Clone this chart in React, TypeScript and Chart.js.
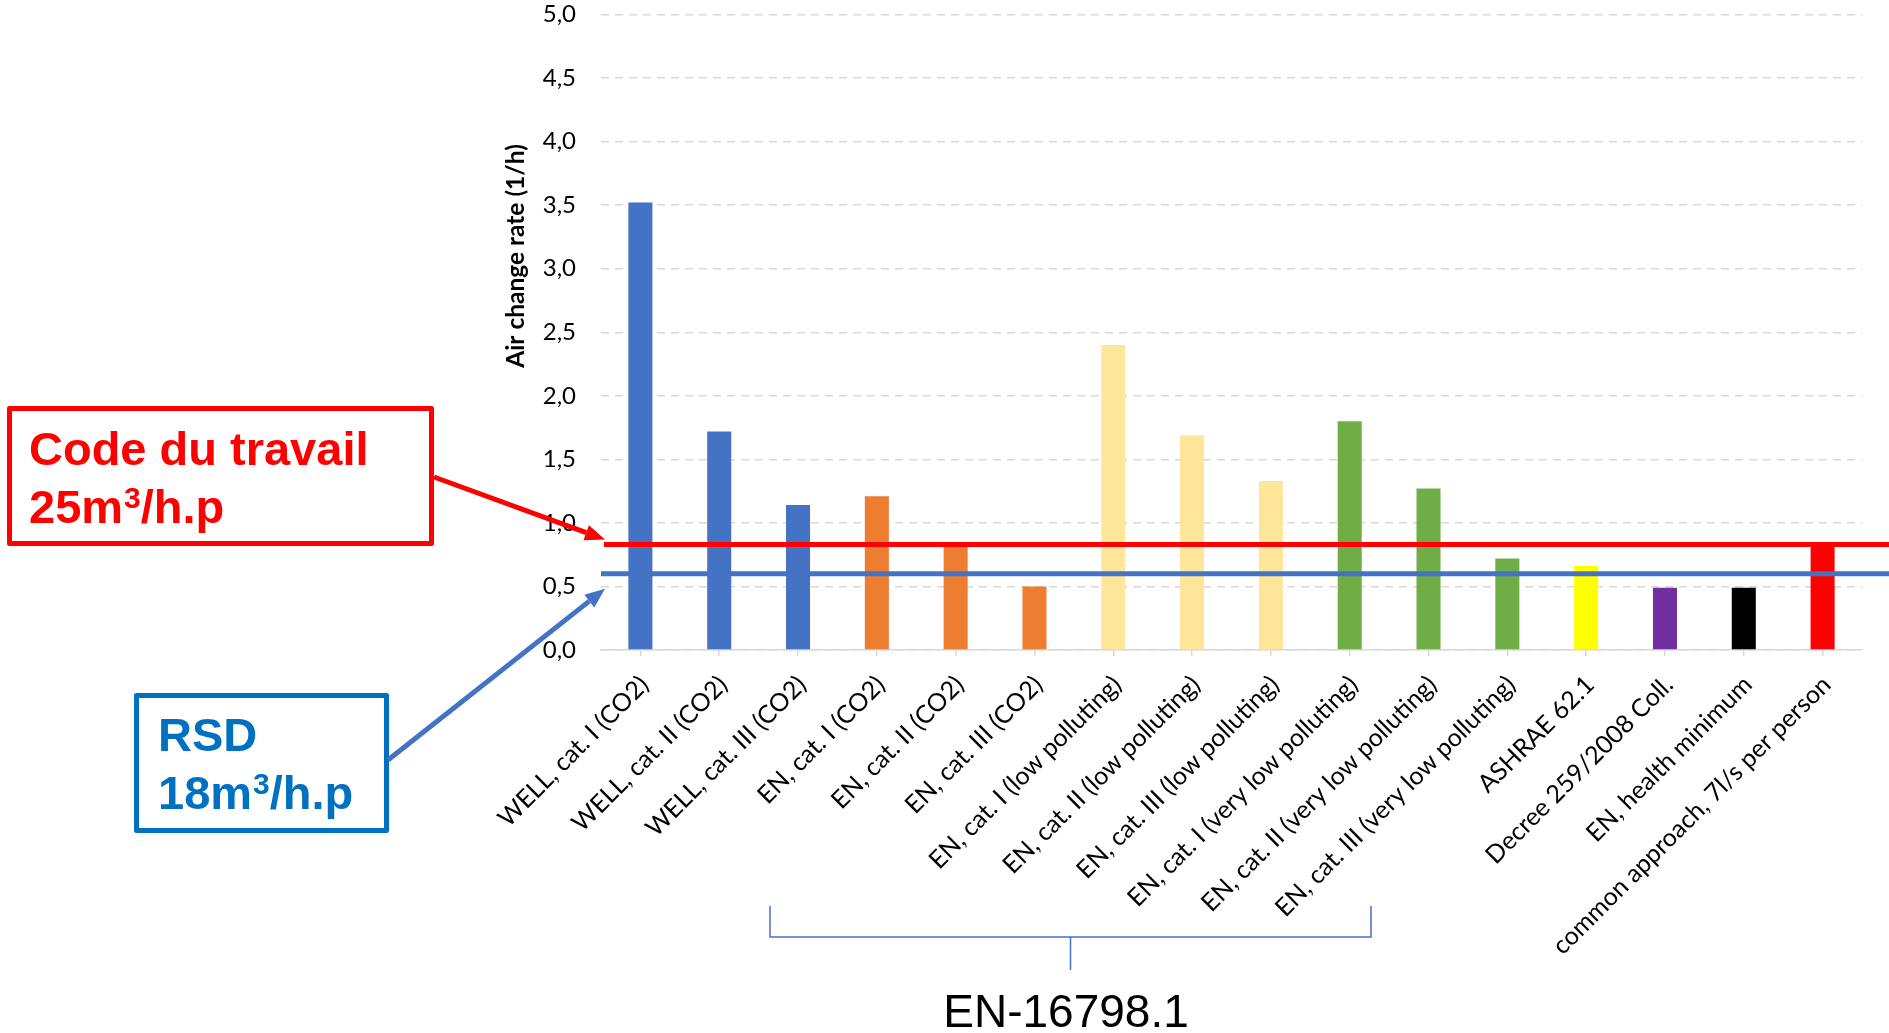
import React, { useEffect, useRef } from "react";
import { Chart, registerables } from "chart.js";

Chart.register(...registerables);

const categories = [
  "WELL, cat. I (CO2)",
  "WELL, cat. II (CO2)",
  "WELL, cat. III (CO2)",
  "EN, cat. I (CO2)",
  "EN, cat. II (CO2)",
  "EN, cat. III (CO2)",
  "EN, cat. I (low polluting)",
  "EN, cat. II (low polluting)",
  "EN, cat. III (low polluting)",
  "EN, cat. I (very low polluting)",
  "EN, cat. II (very low polluting)",
  "EN, cat. III (very low polluting)",
  "ASHRAE 62.1",
  "Decree 259/2008 Coll.",
  "EN, health minimum",
  "common approach, 7l/s per person",
];

const airChangeRates = [3.52, 1.72, 1.14, 1.21, 0.82, 0.5, 2.4, 1.69, 1.33, 1.8, 1.27, 0.72, 0.66, 0.49, 0.49, 0.82];

const barColors = [
  "#4472c4", "#4472c4", "#4472c4",
  "#ed7d31", "#ed7d31", "#ed7d31",
  "#ffe699", "#ffe699", "#ffe699",
  "#70ad47", "#70ad47", "#70ad47",
  "#ffff00", "#7030a0", "#000000", "#ff0000",
];

const codeDuTravailLevel = 0.83;
const rsdLevel = 0.6;

const yAxisTitle = "Air change rate (1/h)";
const redBoxLines = ["Code du travail", "25m", "3", "/h.p"];
const blueBoxLines = ["RSD", "18m", "3", "/h.p"];
const bracketLabel = "EN-16798.1";

function drawArrow(ctx: CanvasRenderingContext2D, x1: number, y1: number, x2: number, y2: number, color: string, w: number) {
  const ang = Math.atan2(y2 - y1, x2 - x1);
  const headLen = 20;
  const headW = 8;
  const bx = x2 - headLen * Math.cos(ang);
  const by = y2 - headLen * Math.sin(ang);
  ctx.save();
  ctx.strokeStyle = color;
  ctx.fillStyle = color;
  ctx.lineWidth = w;
  ctx.beginPath();
  ctx.moveTo(x1, y1);
  ctx.lineTo(bx, by);
  ctx.stroke();
  ctx.beginPath();
  ctx.moveTo(x2, y2);
  ctx.lineTo(bx + headW * Math.sin(ang), by - headW * Math.cos(ang));
  ctx.lineTo(bx - headW * Math.sin(ang), by + headW * Math.cos(ang));
  ctx.closePath();
  ctx.fill();
  ctx.restore();
}

function drawBoxText(
  ctx: CanvasRenderingContext2D,
  lines: string[],
  x: number,
  y1: number,
  y2: number,
  color: string
) {
  ctx.save();
  ctx.fillStyle = color;
  ctx.textAlign = "left";
  ctx.textBaseline = "alphabetic";
  ctx.font = "bold 47px 'Liberation Sans', Arial, sans-serif";
  ctx.fillText(lines[0], x, y1);
  ctx.fillText(lines[1], x, y2);
  let cx = x + ctx.measureText(lines[1]).width + 1;
  ctx.font = "bold 30px 'Liberation Sans', Arial, sans-serif";
  ctx.fillText(lines[2], cx, y2 - 15);
  cx += ctx.measureText(lines[2]).width;
  ctx.font = "bold 47px 'Liberation Sans', Arial, sans-serif";
  ctx.fillText(lines[3], cx, y2);
  ctx.restore();
}

const annotationPlugin = {
  id: "annotations",
  afterDatasetsDraw(chart: any) {
    const ctx: CanvasRenderingContext2D = chart.ctx;
    const yScale = chart.scales.y;
    const area = chart.chartArea;
    const yRed = yScale.getPixelForValue(codeDuTravailLevel);
    const yBlue = yScale.getPixelForValue(rsdLevel);
    ctx.save();
    ctx.lineWidth = 5;
    ctx.strokeStyle = "#4472c4";
    ctx.beginPath();
    ctx.moveTo(area.left, yBlue);
    ctx.lineTo(chart.width, yBlue);
    ctx.stroke();
    ctx.strokeStyle = "#ff0000";
    ctx.beginPath();
    ctx.moveTo(area.left + 3, yRed);
    ctx.lineTo(chart.width, yRed);
    ctx.stroke();
    ctx.restore();
  },
  afterDraw(chart: any) {
    const ctx: CanvasRenderingContext2D = chart.ctx;
    const yScale = chart.scales.y;
    const area = chart.chartArea;
    const yRed = yScale.getPixelForValue(codeDuTravailLevel);
    const yBlue = yScale.getPixelForValue(rsdLevel);

    // y axis title
    ctx.save();
    ctx.translate(516, 256);
    ctx.rotate(-Math.PI / 2);
    ctx.font = "bold 24.5px Lato, sans-serif";
    ctx.fillStyle = "#000";
    ctx.textAlign = "center";
    ctx.textBaseline = "middle";
    ctx.fillText(yAxisTitle, 0, 0);
    ctx.restore();

    // red box
    ctx.save();
    ctx.strokeStyle = "#ff0000";
    ctx.lineWidth = 5;
    ctx.lineJoin = "round";
    ctx.strokeRect(9.5, 408.5, 422, 135);
    ctx.restore();
    drawBoxText(ctx, redBoxLines, 29, 465, 523, "#ff0000");
    drawArrow(ctx, 434, 477, area.left + 4, yRed - 5, "#ff0000", 5);

    // blue box
    ctx.save();
    ctx.strokeStyle = "#0070c0";
    ctx.lineWidth = 5;
    ctx.lineJoin = "round";
    ctx.strokeRect(136.5, 695.5, 250, 135);
    ctx.restore();
    drawBoxText(ctx, blueBoxLines, 158, 751, 809, "#0070c0");
    drawArrow(ctx, 388, 760, area.left + 4, yBlue + 15, "#4472c4", 5);

    // bracket
    ctx.save();
    ctx.strokeStyle = "#4472c4";
    ctx.lineWidth = 1.5;
    ctx.beginPath();
    ctx.moveTo(770, 906);
    ctx.lineTo(770, 937);
    ctx.lineTo(1371, 937);
    ctx.lineTo(1371, 906);
    ctx.moveTo(1070.5, 937);
    ctx.lineTo(1070.5, 970);
    ctx.stroke();
    ctx.font = "46px 'Liberation Sans', Arial, sans-serif";
    ctx.fillStyle = "#000";
    ctx.textAlign = "center";
    ctx.textBaseline = "alphabetic";
    ctx.fillText(bracketLabel, 1066, 1027);
    ctx.restore();
  },
};

export default function App() {
  const canvasRef = useRef<HTMLCanvasElement | null>(null);

  useEffect(() => {
    if (!canvasRef.current) return;
    const chart = new Chart(canvasRef.current, {
      type: "bar",
      data: {
        labels: categories,
        datasets: [
          {
            data: airChangeRates,
            backgroundColor: barColors,
            borderWidth: 0,
            barPercentage: 0.305,
            categoryPercentage: 1,
          },
        ],
      },
      options: {
        animation: false,
        responsive: false,
        events: [],
        layout: { padding: { top: 14.5, right: 27, left: 0, bottom: 0 } },
        plugins: {
          legend: { display: false },
          tooltip: { enabled: false },
          title: { display: false },
        },
        scales: {
          x: {
            grid: {
              display: true,
              drawOnChartArea: false,
              drawTicks: true,
              offset: false,
              tickLength: 6,
              color: "#d9d9d9",
              lineWidth: 1.5,
            },
            border: { display: true, color: "#d9d9d9", width: 1.5 },
            ticks: {
              autoSkip: false,
              maxRotation: 45,
              minRotation: 45,
              padding: 14,
              labelOffset: 4,
              color: "#000",
              font: { family: "Lato, sans-serif", size: 25 },
            },
            afterFit: (scale: any) => {
              scale.height = 383;
            },
          },
          y: {
            min: 0,
            max: 5,
            grid: {
              color: "#d9d9d9",
              lineWidth: 1.5,
              drawTicks: true,
              tickLength: 25,
              tickColor: "rgba(0,0,0,0)",
            },
            border: { display: false, dash: [8, 6] },
            ticks: {
              stepSize: 0.5,
              padding: 0,
              color: "#000",
              font: { family: "Lato, sans-serif", size: 24 },
              callback: (v: any) => Number(v).toFixed(1).replace(".", ","),
            },
            afterFit: (scale: any) => {
              scale.width = 601;
            },
          },
        },
      },
      plugins: [annotationPlugin],
    });
    return () => chart.destroy();
  }, []);

  return (
    <div style={{ position: "fixed", left: 0, top: 0, width: 1889, height: 1033, background: "#fff" }}>
      <canvas ref={canvasRef} width={1889} height={1033} style={{ display: "block" }} />
    </div>
  );
}
